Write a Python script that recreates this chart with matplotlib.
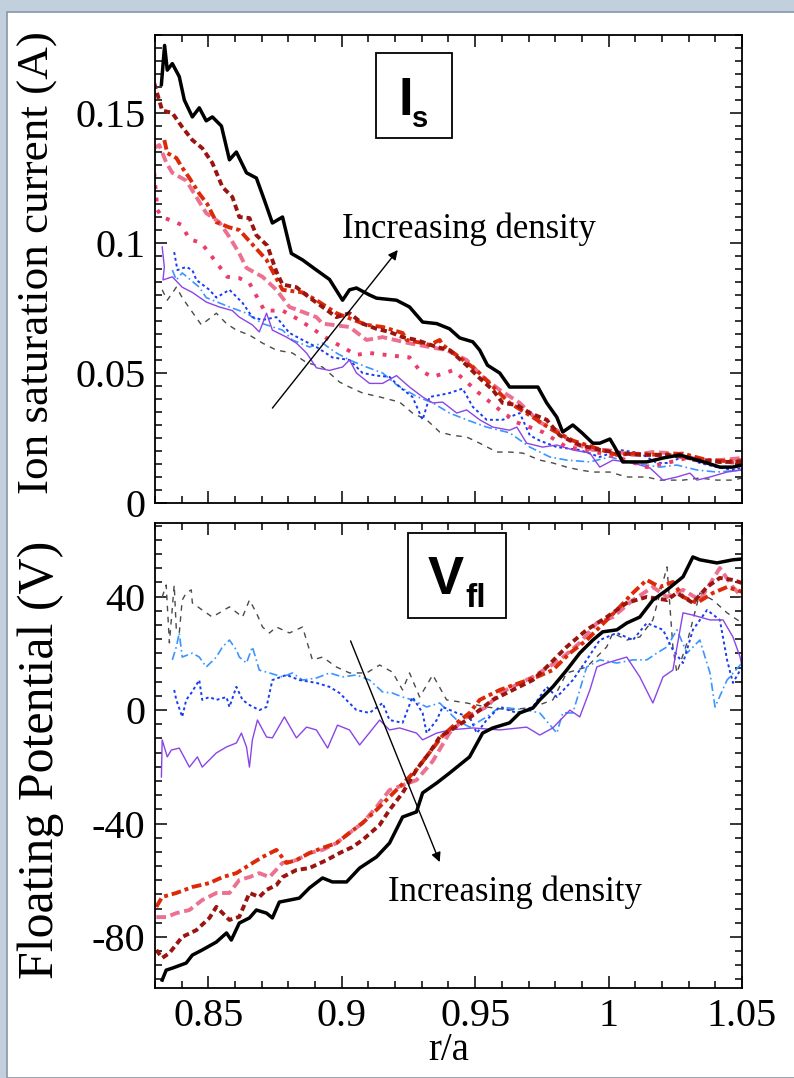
#!/usr/bin/env python
# coding: utf-8
"""
Ion saturation current and floating potential profiles vs r/a,
for several line-averaged densities (two stacked panels).
"""
import numpy as np
import matplotlib
matplotlib.use('Agg')
from matplotlib import pyplot as plt
from matplotlib.patches import Rectangle
from matplotlib.ticker import FixedLocator, MultipleLocator, FuncFormatter

plt.rcParams['font.family'] = ['Liberation Serif', 'DejaVu Serif']

# ---------------------------------------------------------------- data
# axis settings
XLIM = (0.83, 1.05)
XTICKS = [0.85, 0.9, 0.95, 1.0, 1.05]
IS_YLIM = (0.0, 0.18)
IS_YTICKS = [0.0, 0.05, 0.1, 0.15]
VF_YLIM = (-98, 66)
VF_YTICKS = [-80, -40, 0, 40]

# ion saturation current (A), (r/a, value), lowest density first
is_gray = [(0.8327, 0.082), (0.8346, 0.078), (0.838, 0.083), (0.8402, 0.079), (0.8429, 0.075),
           (0.8474, 0.0685), (0.853, 0.073), (0.8568, 0.069), (0.8605, 0.0665), (0.8654, 0.0646),
           (0.8703, 0.0615), (0.8755, 0.0588), (0.8815, 0.0577), (0.8868, 0.054), (0.8928, 0.0523),
           (0.8992, 0.0465), (0.9029, 0.0446), (0.9078, 0.0423), (0.9142, 0.0408), (0.9217, 0.0388),
           (0.9265, 0.0346), (0.9318, 0.032), (0.9367, 0.0273), (0.9416, 0.026), (0.9468, 0.0254),
           (0.9517, 0.023), (0.9581, 0.0196), (0.9629, 0.0196), (0.9678, 0.0192), (0.9742, 0.0165),
           (0.9791, 0.0154), (0.9843, 0.0138), (0.9892, 0.0127), (0.9941, 0.0119), (1.0005, 0.0119),
           (1.0068, 0.010), (1.0143, 0.010), (1.0192, 0.0088), (1.0279, 0.0088), (1.0342, 0.0096),
           (1.0406, 0.0088), (1.0466, 0.0088), (1.05, 0.0096)]
is_lightblue = [(0.8365, 0.0896), (0.838, 0.0858), (0.8402, 0.0885), (0.8466, 0.083), (0.8492, 0.079),
                (0.8579, 0.0754), (0.8643, 0.073), (0.8703, 0.069), (0.8778, 0.0665), (0.8815, 0.0627),
                (0.8879, 0.060), (0.8928, 0.0615), (0.898, 0.0577), (0.9029, 0.055), (0.9093, 0.0523),
                (0.9153, 0.050), (0.9205, 0.0455), (0.928, 0.041), (0.9341, 0.0385), (0.9404, 0.0346),
                (0.9468, 0.032), (0.9543, 0.0292), (0.9629, 0.027), (0.9705, 0.0215), (0.978, 0.0177),
                (0.9843, 0.0165), (0.993, 0.0158), (1.0005, 0.0177), (1.0091, 0.0154), (1.0192, 0.0138),
                (1.0256, 0.0146), (1.0331, 0.0127), (1.0406, 0.0119), (1.05, 0.0127)]
is_blue = [(0.8372, 0.0965), (0.8384, 0.0896), (0.8417, 0.0908), (0.844, 0.0896), (0.8455, 0.0858),
           (0.8504, 0.082), (0.853, 0.079), (0.8579, 0.082), (0.8628, 0.077), (0.8665, 0.0715),
           (0.8703, 0.0704), (0.8755, 0.0715), (0.8804, 0.0654), (0.8853, 0.0627), (0.8905, 0.060),
           (0.8965, 0.056), (0.9029, 0.055), (0.9078, 0.050), (0.913, 0.049), (0.9179, 0.0485),
           (0.9217, 0.0446), (0.9265, 0.0408), (0.9303, 0.032), (0.9329, 0.0408), (0.9367, 0.0415),
           (0.9404, 0.0423), (0.9453, 0.044), (0.9491, 0.037), (0.9543, 0.032), (0.9603, 0.032),
           (0.9667, 0.0346), (0.9705, 0.026), (0.9742, 0.024), (0.9806, 0.0215), (0.9892, 0.0204),
           (0.9967, 0.0177), (1.0042, 0.0204), (1.0117, 0.0192), (1.0181, 0.0154), (1.0219, 0.0154),
           (1.0279, 0.0177), (1.0342, 0.0154), (1.0406, 0.0138), (1.0466, 0.0127), (1.05, 0.0135)]
is_purple = [(0.8327, 0.0985), (0.8335, 0.0908), (0.833, 0.0858), (0.8365, 0.087), (0.8402, 0.083),
             (0.844, 0.081), (0.8492, 0.0773), (0.8541, 0.0754), (0.859, 0.074), (0.8616, 0.0715),
             (0.8665, 0.0685), (0.8691, 0.0658), (0.8718, 0.073), (0.874, 0.0665), (0.8793, 0.0638),
             (0.883, 0.0615), (0.8868, 0.0577), (0.8905, 0.052), (0.8954, 0.051), (0.9003, 0.0523),
             (0.9029, 0.055), (0.9055, 0.050), (0.9104, 0.046), (0.9153, 0.046), (0.9205, 0.049),
             (0.9254, 0.0446), (0.9303, 0.0408), (0.9341, 0.0385), (0.9378, 0.0388), (0.9431, 0.0346),
             (0.9468, 0.0358), (0.9517, 0.032), (0.9566, 0.0292), (0.9629, 0.028), (0.9656, 0.0292),
             (0.9693, 0.023), (0.9753, 0.0215), (0.9806, 0.0223), (0.9866, 0.0204), (0.993, 0.0192),
             (0.9967, 0.0138), (1.0016, 0.0165), (1.0091, 0.0154), (1.0155, 0.0135), (1.0204, 0.0088),
             (1.0256, 0.010), (1.0305, 0.0115), (1.0331, 0.0088), (1.038, 0.010), (1.0444, 0.0119),
             (1.05, 0.0127)]
is_crimson = [(0.8297, 0.127), (0.8305, 0.1177), (0.8309, 0.1127), (0.8327, 0.110), (0.8384, 0.1077),
              (0.8399, 0.107), (0.8429, 0.1015), (0.8474, 0.100), (0.8504, 0.096), (0.8571, 0.087),
              (0.8616, 0.0865), (0.8654, 0.0846), (0.871, 0.074), (0.8778, 0.074), (0.8841, 0.0704),
              (0.8954, 0.0627), (0.9055, 0.057), (0.9104, 0.0577), (0.9205, 0.0565), (0.9254, 0.056),
              (0.9292, 0.051), (0.9341, 0.0485), (0.9416, 0.051), (0.9453, 0.048), (0.9509, 0.0427),
              (0.9592, 0.0358), (0.9656, 0.031), (0.9753, 0.0273), (0.9843, 0.0215), (0.9918, 0.0204),
              (1.0031, 0.0177), (1.0143, 0.0138), (1.0219, 0.0154), (1.0294, 0.0173), (1.0369, 0.0154),
              (1.0417, 0.0158), (1.05, 0.0154)]
is_pink = [(0.8297, 0.1365), (0.8316, 0.1377), (0.8342, 0.131), (0.8365, 0.127), (0.8417, 0.124),
           (0.8455, 0.1177), (0.8492, 0.1115), (0.8541, 0.108), (0.8579, 0.1023), (0.8616, 0.096),
           (0.8643, 0.0904), (0.8703, 0.087), (0.8755, 0.082), (0.8804, 0.0754), (0.8905, 0.0715),
           (0.8928, 0.069), (0.9029, 0.0677), (0.9093, 0.0627), (0.9153, 0.0638), (0.925, 0.0615),
           (0.9393, 0.0588), (0.9468, 0.055), (0.9528, 0.0485), (0.9592, 0.0435), (0.9667, 0.0385),
           (0.9742, 0.031), (0.9806, 0.028), (0.9866, 0.023), (0.9941, 0.0204), (0.9993, 0.0204),
           (1.0091, 0.0185), (1.0166, 0.0196), (1.0256, 0.019), (1.0342, 0.0165), (1.0417, 0.0165),
           (1.05, 0.0173)]
is_red = [(0.8335, 0.1396), (0.8346, 0.1346), (0.838, 0.1327), (0.8402, 0.129), (0.8429, 0.125),
          (0.8466, 0.119), (0.8496, 0.115), (0.853, 0.108), (0.8579, 0.106), (0.8616, 0.105),
          (0.8718, 0.0935), (0.8778, 0.082), (0.8853, 0.081), (0.8905, 0.078), (0.898, 0.073),
          (0.9093, 0.0685), (0.9153, 0.0677), (0.9228, 0.0654), (0.9243, 0.0627), (0.9303, 0.0615),
          (0.9329, 0.0608), (0.9367, 0.0627), (0.9378, 0.0608), (0.9442, 0.056), (0.9506, 0.051),
          (0.9554, 0.046), (0.9629, 0.0385), (0.9716, 0.033), (0.9791, 0.028), (0.9866, 0.024),
          (0.9941, 0.0215), (1.0031, 0.0185), (1.0091, 0.019), (1.0192, 0.0185), (1.0279, 0.019),
          (1.0369, 0.0165), (1.0466, 0.016), (1.05, 0.0165)]
is_darkred = [(0.8297, 0.1615), (0.8327, 0.151), (0.8365, 0.150), (0.8402, 0.1446), (0.844, 0.1396),
              (0.8477, 0.1365), (0.8515, 0.1308), (0.8553, 0.1215), (0.859, 0.1177), (0.8616, 0.110),
              (0.8654, 0.1096), (0.868, 0.103), (0.8721, 0.099), (0.8755, 0.089), (0.8778, 0.084),
              (0.883, 0.083), (0.8879, 0.079), (0.8928, 0.0754), (0.898, 0.0715), (0.9029, 0.073),
              (0.9078, 0.069), (0.913, 0.067), (0.9179, 0.0658), (0.9228, 0.0638), (0.928, 0.0627),
              (0.9356, 0.060), (0.9404, 0.0588), (0.9468, 0.053), (0.9517, 0.048), (0.9566, 0.0435),
              (0.9603, 0.0385), (0.9656, 0.0377), (0.9705, 0.0346), (0.9768, 0.032), (0.9817, 0.026),
              (0.9892, 0.0223), (0.9967, 0.0204), (1.0042, 0.0192), (1.0117, 0.0185), (1.0219, 0.0185),
              (1.0279, 0.0177), (1.0342, 0.0165), (1.0417, 0.0158), (1.05, 0.0158)]
is_black = [(0.8324, 0.161), (0.8336, 0.176), (0.8346, 0.1665), (0.8365, 0.169), (0.8391, 0.164),
            (0.841, 0.155), (0.844, 0.1485), (0.8466, 0.152), (0.8492, 0.147), (0.8515, 0.1485),
            (0.8549, 0.145), (0.8579, 0.132), (0.8605, 0.135), (0.8643, 0.127), (0.868, 0.125),
            (0.871, 0.1165), (0.874, 0.1077), (0.8778, 0.110), (0.8811, 0.096), (0.8853, 0.0935),
            (0.8905, 0.0896), (0.8954, 0.086), (0.9003, 0.078), (0.9029, 0.082), (0.9055, 0.0827),
            (0.9104, 0.080), (0.913, 0.0788), (0.9205, 0.078), (0.9254, 0.0754), (0.9303, 0.0696),
            (0.9356, 0.069), (0.9404, 0.067), (0.9442, 0.0635), (0.9491, 0.062), (0.9517, 0.0588),
            (0.9546, 0.053), (0.9592, 0.050), (0.9629, 0.0446), (0.9735, 0.0446), (0.9768, 0.0385),
            (0.9806, 0.033), (0.9828, 0.0273), (0.9866, 0.030), (0.99, 0.027), (0.9941, 0.023),
            (0.9967, 0.023), (1.0005, 0.0246), (1.0023, 0.0215), (1.0053, 0.0158), (1.0143, 0.0158),
            (1.0204, 0.0173), (1.0267, 0.0185), (1.0305, 0.0173), (1.0369, 0.0154), (1.0417, 0.0138),
            (1.0466, 0.0138), (1.05, 0.0146)]

# floating potential (V), (r/a, value), lowest density first
vf_gray = [(0.8327, 39.9), (0.8342, 44.1), (0.8354, 23.7), (0.8372, 44.1), (0.838, 28.3),
           (0.8391, 27.2), (0.8402, 38.8), (0.8417, 41.3), (0.8436, 42.4), (0.844, 37.8),
           (0.8477, 35.3), (0.8515, 32.8), (0.8541, 34.3), (0.8579, 36.4), (0.8628, 32.8),
           (0.8654, 38.8), (0.868, 34.3), (0.8703, 29.3), (0.8729, 27.2), (0.8755, 29.3),
           (0.8804, 27.2), (0.8853, 29.3), (0.889, 17.7), (0.8928, 18.7), (0.898, 15.2),
           (0.9029, 13.1), (0.9093, 13.1), (0.9142, 15.9), (0.919, 13.4), (0.9228, 7.1),
           (0.9254, 13.1), (0.9292, 4.6), (0.9341, 12.4), (0.9393, 3.6), (0.9468, 2.5),
           (0.9543, 1.1), (0.9629, 0.0), (0.9716, 1.0), (0.9791, 3.6), (0.9843, 13.1),
           (0.9918, 15.2), (0.9993, 22.3), (1.0016, 27.2), (1.0068, 24.7), (1.0117, 25.8),
           (1.0166, 31.8), (1.0219, 50.5), (1.0241, 22.3), (1.0256, 13.1), (1.0294, 23.7),
           (1.0342, 41.3), (1.0391, 38.8), (1.0444, 34.3), (1.05, 30.7)]
vf_lightblue = [(0.8365, 17.7), (0.838, 22.3), (0.8391, 27.2), (0.8402, 18.7), (0.844, 20.1),
                (0.8466, 18.7), (0.8492, 15.2), (0.853, 18.7), (0.8553, 22.3), (0.8579, 24.7),
                (0.8605, 21.2), (0.8616, 18.7), (0.8643, 16.6), (0.8665, 22.3), (0.8691, 14.1),
                (0.8729, 13.1), (0.8778, 11.7), (0.8815, 13.1), (0.8853, 10.6), (0.8905, 11.3),
                (0.8954, 13.1), (0.9003, 11.7), (0.9055, 12.4), (0.9104, 10.6), (0.9153, 6.4),
                (0.919, 6.0), (0.9228, 4.6), (0.9265, 3.6), (0.9318, 1.1), (0.9367, 2.5),
                (0.9431, -3.5), (0.9479, -6.0), (0.9543, -2.4), (0.9592, 1.1), (0.9693, 0.0),
                (0.9742, -1.0), (0.9806, -8.1), (0.9828, -1.0), (0.9866, -1.0), (0.9918, 15.2),
                (0.9967, 17.7), (1.0031, 16.6), (1.0091, 17.7), (1.0143, 17.7), (1.0181, 20.1),
                (1.0219, 22.3), (1.0256, 28.3), (1.0294, 20.1), (1.0342, 24.7), (1.038, 13.1),
                (1.0399, 1.1), (1.0444, 10.6), (1.05, 16.6)]
vf_blue = [(0.8372, 7.1), (0.838, 3.6), (0.8402, -2.4), (0.8417, 3.6), (0.8436, 6.0),
           (0.8466, 10.6), (0.8477, 3.6), (0.8504, 4.6), (0.853, 3.6), (0.8568, 4.6),
           (0.8579, 1.1), (0.8605, 8.2), (0.8628, 3.6), (0.8654, 1.8), (0.8691, 0.0),
           (0.8718, 1.1), (0.874, 10.6), (0.8793, 12.4), (0.8841, 10.6), (0.8905, 9.6),
           (0.8954, 8.2), (0.8992, 6.0), (0.9055, 0.0), (0.9104, -1.0), (0.9153, 2.5),
           (0.9179, -3.5), (0.9228, -4.5), (0.9265, 4.6), (0.9303, -1.0), (0.9318, -8.1),
           (0.9356, -3.5), (0.9378, 1.1), (0.9431, -1.0), (0.9479, -2.4), (0.9506, -8.1),
           (0.9543, -3.5), (0.9592, 1.1), (0.9656, -1.0), (0.9716, 1.1), (0.9768, 8.2),
           (0.9806, 4.6), (0.9866, 10.6), (0.9918, 17.7), (0.9967, 24.7), (1.0031, 27.2),
           (1.0091, 24.7), (1.0143, 30.7), (1.0204, 28.3), (1.0241, 21.2), (1.0279, 16.6),
           (1.0316, 28.3), (1.0369, 35.3), (1.0417, 31.8), (1.0444, 17.7), (1.0466, 9.6),
           (1.05, 15.2)]
vf_purple = [(0.8324, -23.6), (0.8327, -10.5), (0.8346, -16.5), (0.8361, -14.1), (0.8391, -13.4),
             (0.8429, -20.1), (0.8459, -16.5), (0.8477, -20.1), (0.853, -15.1), (0.8568, -13.0),
             (0.8605, -11.6), (0.8624, -8.1), (0.8643, -13.0), (0.8654, -20.1), (0.8665, -10.5),
             (0.8684, -3.5), (0.8718, -9.5), (0.874, -9.8), (0.8785, -2.4), (0.883, -9.8),
             (0.8868, -6.0), (0.8905, -7.0), (0.8947, -13.4), (0.8984, -5.3), (0.9029, -7.0),
             (0.9067, -12.3), (0.9142, -3.5), (0.9179, -7.0), (0.9217, -6.3), (0.928, -8.1),
             (0.9303, -10.5), (0.9356, -8.1), (0.9404, -7.0), (0.9491, -6.3), (0.9592, -7.0),
             (0.9693, -6.0), (0.9742, -8.8), (0.9791, -6.3), (0.9855, 0.0), (0.9892, -2.4),
             (0.993, 7.1), (0.9956, 15.2), (0.9993, 16.6), (1.0068, 18.7), (1.0117, 11.7),
             (1.0166, 2.5), (1.0204, 11.7), (1.0241, 14.1), (1.0279, 34.3), (1.0316, 33.5),
             (1.038, 31.8), (1.0429, 31.8), (1.0466, 25.8), (1.0493, 18.7), (1.05, 15.2)]
vf_pink = [(0.8305, -73.0), (0.8342, -73.0), (0.838, -71.6), (0.8429, -70.5), (0.8477, -67.0),
           (0.853, -64.5), (0.8579, -64.5), (0.8616, -59.9), (0.8654, -58.9), (0.8691, -57.5),
           (0.8729, -58.9), (0.8778, -53.9), (0.883, -52.9), (0.8879, -50.4), (0.8928, -49.3),
           (0.898, -46.9), (0.9029, -43.3), (0.9078, -39.8), (0.913, -34.2), (0.9179, -28.2),
           (0.928, -24.7), (0.9341, -18.0), (0.9404, -8.0), (0.9468, -2.4), (0.9543, 1.1),
           (0.9592, 6.0), (0.9716, 11.7), (0.9817, 17.7), (0.9892, 23.7), (0.9956, 30.7),
           (1.0016, 32.8), (1.0091, 38.8), (1.0166, 43.4), (1.0219, 39.9), (1.0279, 42.4),
           (1.0342, 38.8), (1.0417, 50.1), (1.0466, 43.4), (1.05, 39.9)]
vf_red = [(0.8305, -69.4), (0.8327, -65.9), (0.838, -64.5), (0.844, -62.4), (0.8504, -61.0),
          (0.8553, -58.9), (0.8605, -57.5), (0.8654, -54.6), (0.8703, -51.8), (0.8755, -49.3),
          (0.8793, -53.9), (0.883, -52.9), (0.8879, -50.4), (0.8928, -48.6), (0.898, -46.9),
          (0.9029, -43.3), (0.9078, -39.8), (0.913, -35.2), (0.9179, -30.6), (0.9228, -26.0),
          (0.928, -21.0), (0.9329, -15.0), (0.9378, -9.0), (0.9431, -4.5), (0.9479, -1.0),
          (0.9517, 3.6), (0.9592, 7.1), (0.9667, 9.6), (0.9731, 11.7), (0.9791, 14.1),
          (0.9855, 20.1), (0.9918, 24.7), (0.9967, 29.3), (1.0031, 35.3), (1.0091, 41.3),
          (1.0143, 45.9), (1.0192, 43.4), (1.0241, 45.2), (1.0279, 39.9), (1.0331, 37.8),
          (1.0391, 41.3), (1.0444, 43.4), (1.05, 41.7)]
vf_darkred = [(0.8305, -84.6), (0.8327, -87.4), (0.8354, -85.7), (0.8402, -80.0), (0.8455, -77.6),
              (0.8504, -73.3), (0.853, -69.4), (0.8579, -74.0), (0.8616, -72.9), (0.8654, -64.5),
              (0.8691, -65.9), (0.8718, -63.4), (0.8755, -61.7), (0.8778, -58.9), (0.883, -56.4),
              (0.8879, -55.7), (0.8943, -52.9), (0.8992, -50.4), (0.904, -48.3), (0.9078, -45.8),
              (0.9142, -40.5), (0.9179, -35.2), (0.9228, -29.2), (0.928, -21.0), (0.9329, -15.0),
              (0.9367, -9.5), (0.9468, -3.5), (0.9566, 3.6), (0.9641, 7.1), (0.9716, 10.6),
              (0.9768, 15.2), (0.9843, 22.3), (0.9918, 28.3), (0.9993, 32.8), (1.0068, 37.8),
              (1.0143, 39.9), (1.0219, 38.8), (1.0256, 41.3), (1.0316, 37.8), (1.0369, 43.4),
              (1.0417, 46.6), (1.0466, 45.9), (1.05, 44.8)]
vf_black = [(0.8327, -95.2), (0.8342, -91.7), (0.8365, -91.0), (0.8417, -89.2), (0.844, -86.4),
            (0.8477, -84.6), (0.853, -81.8), (0.8568, -78.6), (0.8586, -81.1), (0.8616, -75.1),
            (0.8654, -73.3), (0.868, -70.5), (0.8718, -71.6), (0.874, -73.3), (0.8766, -67.7),
            (0.8804, -67.0), (0.8841, -66.3), (0.8879, -62.7), (0.8928, -59.2), (0.8965, -60.6),
            (0.9018, -60.6), (0.9067, -55.7), (0.913, -51.8), (0.9179, -46.9), (0.9228, -37.7),
            (0.928, -35.9), (0.9303, -29.2), (0.9356, -25.7), (0.9404, -22.2), (0.9479, -16.5),
            (0.9528, -8.1), (0.9566, -6.3), (0.9629, -4.5), (0.9667, -1.0), (0.9716, 0.7),
            (0.9742, 3.6), (0.9791, 8.2), (0.9843, 14.1), (0.9892, 20.1), (0.9941, 24.7),
            (0.9978, 27.6), (1.0031, 28.3), (1.0068, 30.7), (1.0117, 32.8), (1.0166, 38.8),
            (1.0219, 42.4), (1.0279, 47.0), (1.0316, 54.0), (1.0342, 53.0), (1.0406, 51.9),
            (1.0466, 53.0), (1.05, 53.3)]

# line styles: colour, width, dash pattern (None = solid)
STYLES = {
    'gray': ('#4a4a4a', 1.0, (4, 4)),
    'lightblue': ('#3a96ff', 1.2, (5, 2, 1, 2)),
    'blue': ('#1a3cf0', 1.4, (1.5, 1.5)),
    'purple': ('#8a45e6', 1.0, None),
    'crimson': ('#ec3c6c', 2.8, (1, 2.2)),
    'pink': ('#ec7090', 2.8, (2.5, 1.2)),
    'red': ('#dc2a08', 2.8, (2.5, 1, 1, 1)),
    'darkred': ('#9a1410', 2.8, (1.6, 1)),
    'black': ('black', 2.5, None),
}

IS_SERIES = [('gray', is_gray), ('lightblue', is_lightblue), ('blue', is_blue),
             ('purple', is_purple), ('crimson', is_crimson), ('pink', is_pink),
             ('red', is_red), ('darkred', is_darkred), ('black', is_black)]
VF_SERIES = [('gray', vf_gray), ('lightblue', vf_lightblue), ('blue', vf_blue),
             ('purple', vf_purple), ('pink', vf_pink), ('red', vf_red),
             ('darkred', vf_darkred), ('black', vf_black)]


def draw_series(ax, series):
    for key, pairs in series:
        color, lw, dashes = STYLES[key]
        pts = np.array(pairs)
        line, = ax.plot(pts[:, 0], pts[:, 1], color=color, lw=lw)
        if dashes is not None:
            line.set_dashes(dashes)


def style_axes(ax, ylim, yticks, yminor):
    ax.set_xlim(*XLIM)
    ax.set_ylim(*ylim)
    ax.xaxis.set_major_locator(FixedLocator(XTICKS))
    ax.xaxis.set_minor_locator(MultipleLocator(0.01))
    ax.yaxis.set_major_locator(FixedLocator(yticks))
    ax.yaxis.set_minor_locator(MultipleLocator(yminor))
    fmt = FuncFormatter(lambda v, pos: '%g' % v)
    ax.xaxis.set_major_formatter(fmt)
    ax.yaxis.set_major_formatter(fmt)
    ax.tick_params(which='both', direction='in', top=True, right=True, width=1.1)
    ax.tick_params(which='major', length=8.5, labelsize=29, pad=7)
    ax.tick_params(which='minor', length=5)
    for s in ax.spines.values():
        s.set_linewidth(1.3)


fig = plt.figure(figsize=(7.94, 10.78), dpi=100)
fig.patch.set_facecolor('#c2d0de')
fig.add_artist(Rectangle((0.009, 0.0), 1.0, 0.989, transform=fig.transFigure,
                         facecolor='white', edgecolor='#8796a8', lw=1.2, zorder=-5))

ax1 = fig.add_axes([0.1952, 0.5334, 0.7393, 0.4341])
ax2 = fig.add_axes([0.1952, 0.0835, 0.7393, 0.4314])

# top panel: ion saturation current
draw_series(ax1, IS_SERIES)
style_axes(ax1, IS_YLIM, IS_YTICKS, 0.005)
ax1.tick_params(labelbottom=False)
ax1.add_patch(Rectangle((0.3765, 0.780), 0.1295, 0.1815, transform=ax1.transAxes,
                        facecolor='white', edgecolor='black', lw=1.3, zorder=5))
ax1.text(0.414, 0.829, 'I', transform=ax1.transAxes, fontsize=38, fontweight='bold',
         family='Liberation Sans', ha='left', va='baseline', zorder=6)
ax1.text(0.4378, 0.8034, 's', transform=ax1.transAxes, fontsize=21, fontweight='bold',
         family='Liberation Sans', ha='left', va='baseline', zorder=6)
ax1.annotate('', xy=(0.921, 0.0973), xytext=(0.874, 0.0365),
             arrowprops=dict(arrowstyle='-|>', color='black', lw=1.0,
                             mutation_scale=14, shrinkA=0, shrinkB=0), zorder=7)
ax1.text(0.900, 0.102, 'Increasing density', fontsize=25, ha='left', va='baseline')

# bottom panel: floating potential
draw_series(ax2, VF_SERIES)
style_axes(ax2, VF_YLIM, VF_YTICKS, 5)
ax2.add_patch(Rectangle((0.431, 0.7957), 0.167, 0.1828, transform=ax2.transAxes,
                        facecolor='white', edgecolor='black', lw=1.3, zorder=5))
ax2.text(0.465, 0.847, 'V', transform=ax2.transAxes, fontsize=39, fontweight='bold',
         family='Liberation Sans', ha='left', va='baseline', zorder=6)
ax2.text(0.528, 0.819, 'fl', transform=ax2.transAxes, fontsize=24, fontweight='bold',
         family='Liberation Sans', ha='left', va='baseline', zorder=6)
ax2.annotate('', xy=(0.9367, -53.6), xytext=(0.9033, 24.4),
             arrowprops=dict(arrowstyle='-|>', color='black', lw=1.0,
                             mutation_scale=14, shrinkA=0, shrinkB=0), zorder=7)
ax2.text(0.9172, -67.3, 'Increasing density', fontsize=25, ha='left', va='baseline')
ax2.set_xlabel('r/a', fontsize=28, labelpad=-2)

fig.text(0.047, 0.756, 'Ion saturation current (A)', rotation=90, fontsize=32.5,
         ha='center', va='center')
fig.text(0.051, 0.295, 'Floating Potential (V)', rotation=90, fontsize=36,
         ha='center', va='center')

fig.savefig('out.png', dpi=100, facecolor=fig.get_facecolor())
